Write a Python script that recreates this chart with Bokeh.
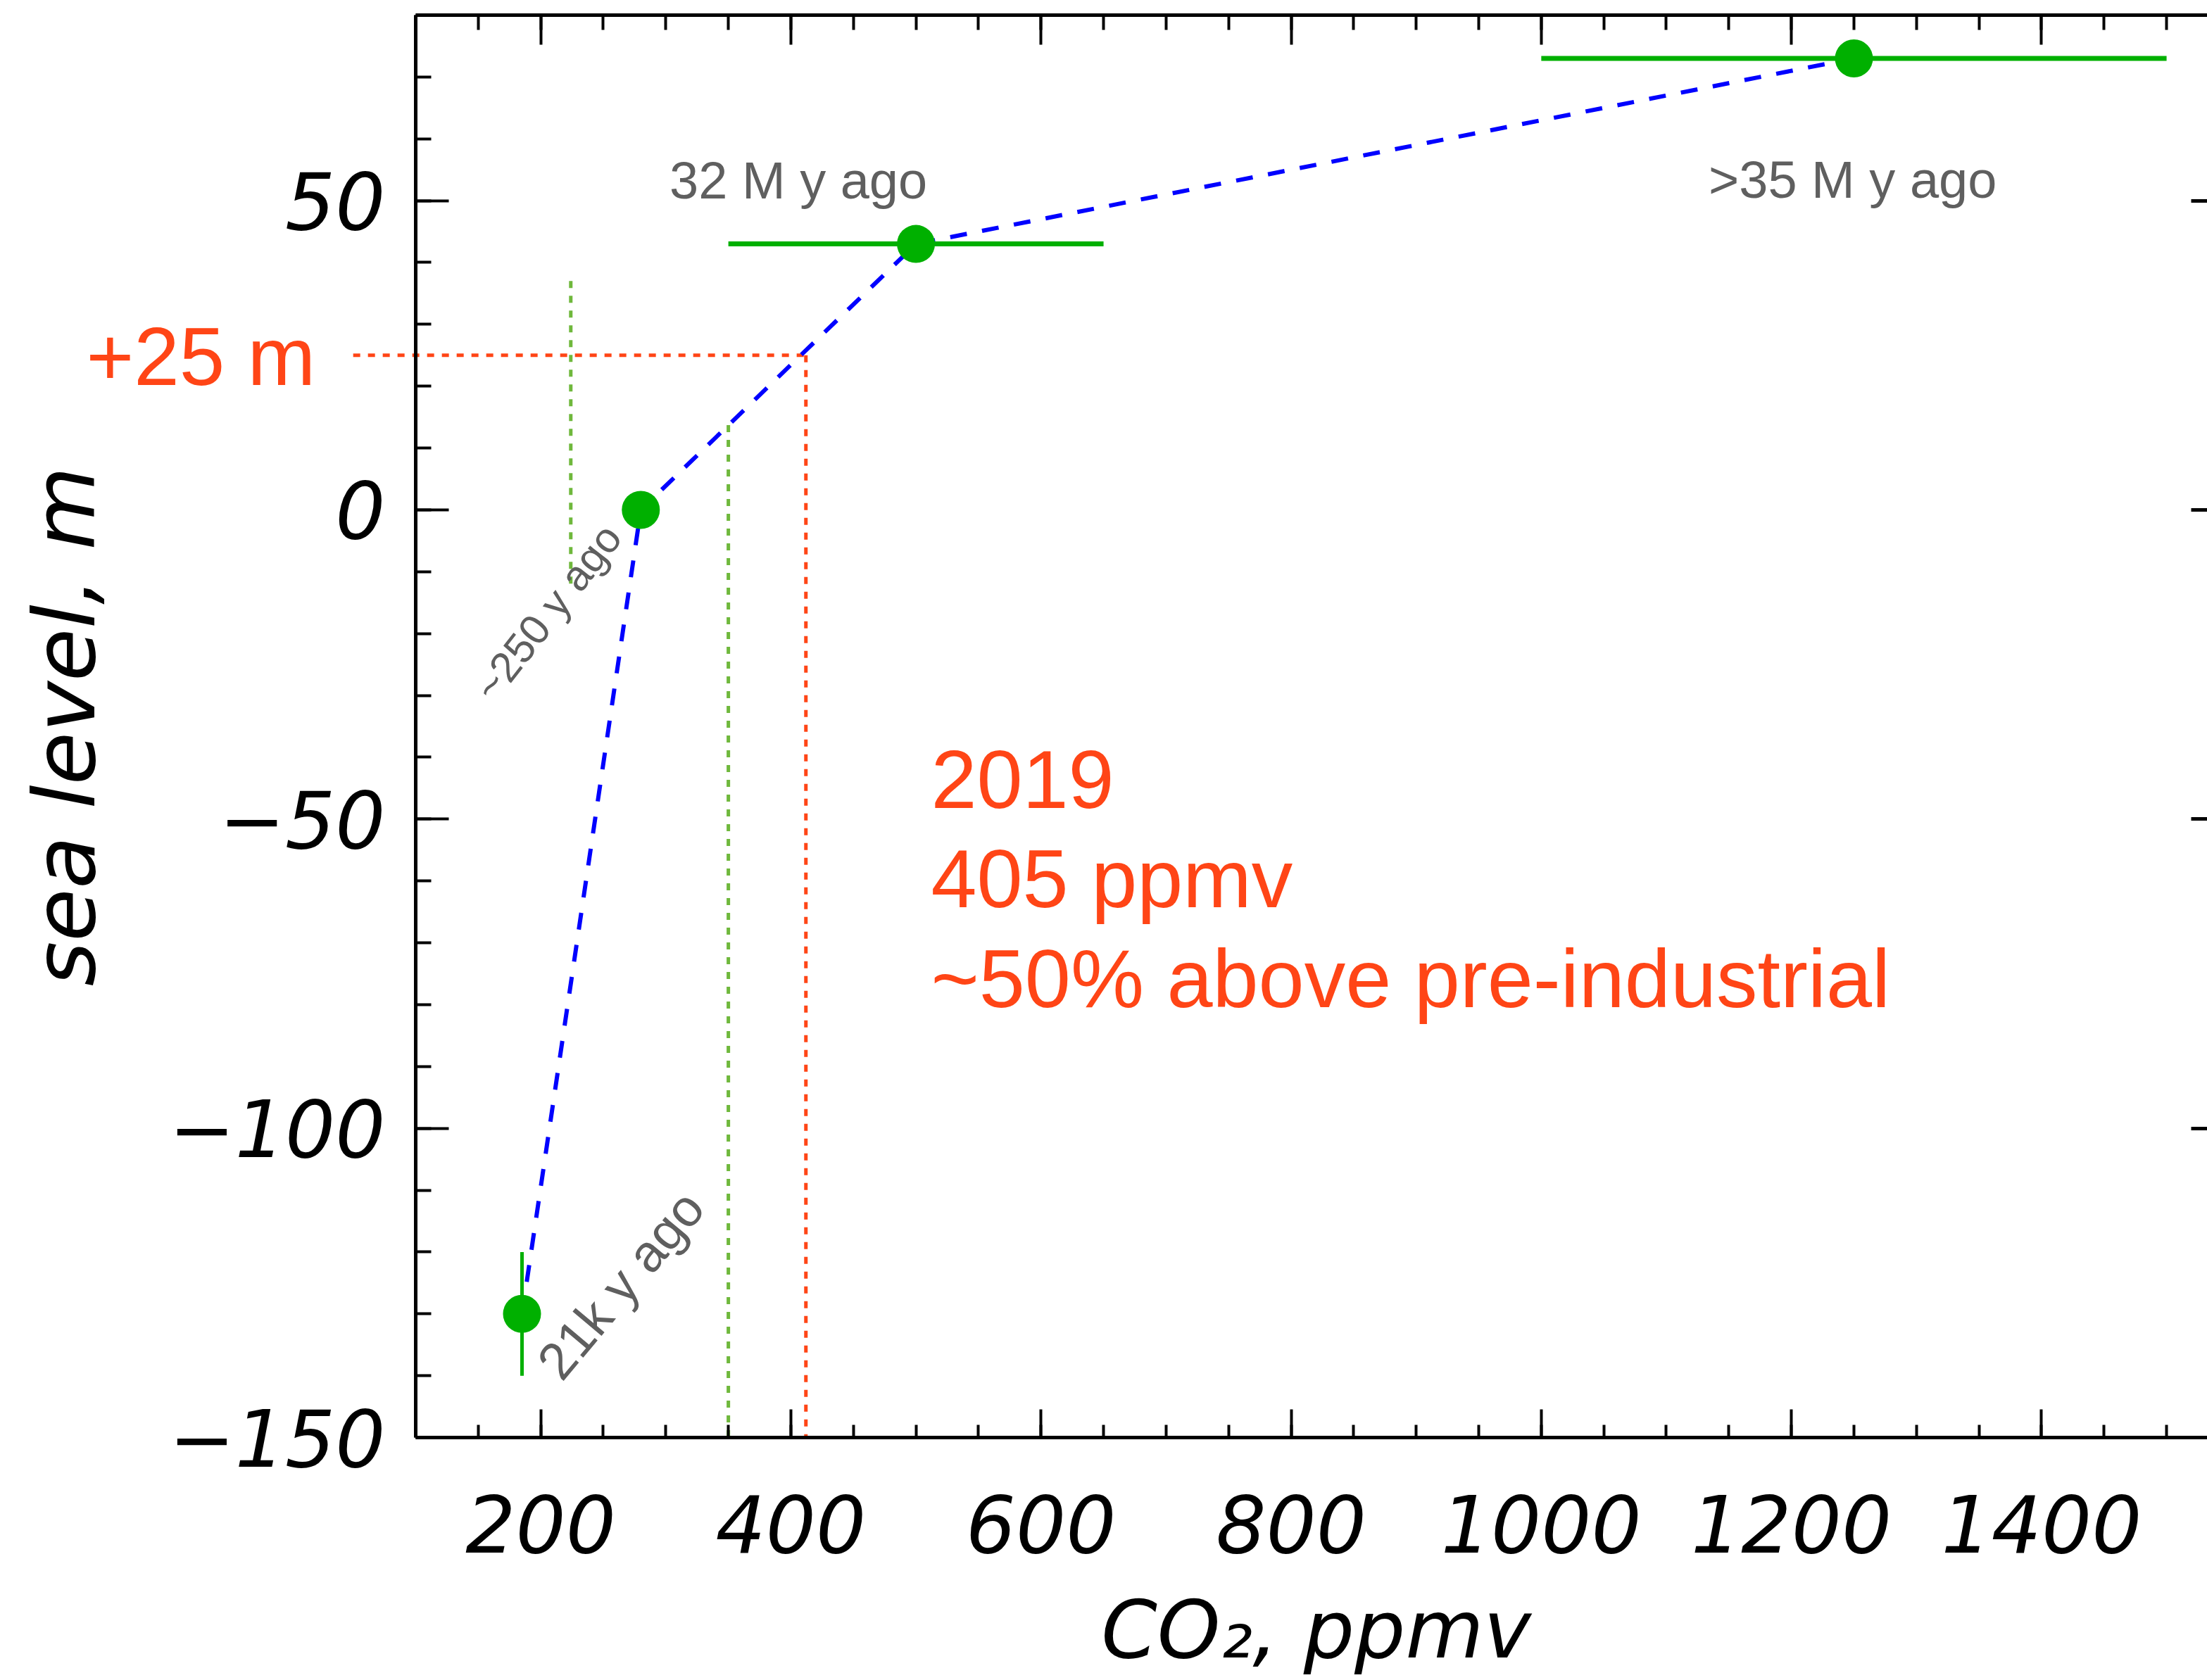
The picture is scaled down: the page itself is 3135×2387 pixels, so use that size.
import math
from bokeh.plotting import figure
from bokeh.models import Range1d, LinearAxis, SingleIntervalTicker
from bokeh.core.properties import value
from bokeh.embed import file_html
from bokeh.resources import INLINE

# ---------------- data ----------------
co2 = [185, 280, 500, 1250]          # ppmv
sea = [-130, 0, 43, 73]              # sea level, m

# horizontal error bars (CO2 uncertainty)
xerr_y = [43, 73]
xerr_lo = [350, 1000]
xerr_hi = [650, 1500]

# vertical error bar (sea level uncertainty)
yerr_x = [185]
yerr_lo = [-140]
yerr_hi = [-120]

# reference lines
green_x = [224, 350]
green_top = [37, 13.7]
green_bottom = [-12, -151]
now_co2 = 412
now_level = 25
now_level_start = 50

# axes
x_axis_min, x_axis_max = 100, 1532.6
y_axis_min, y_axis_max = -150, 80
right_axis_at = 1548
x_ticks_major = [200, 400, 600, 800, 1000, 1200, 1400]
y_ticks_major = [-150, -100, -50, 0, 50]

period_labels = ["32 M y ago", ">35 M y ago"]
period_x = [406, 1249]
period_y = [53.3, 53.4]

rot_labels = ["~250 y ago", "21k y ago"]
rot_x = [205.6, 264]
rot_y = [-16.6, -125.3]
rot_size = ["60px", "74px"]
rot_angle_deg = [52, 50]

note_lines = ["2019", "405 ppmv", "~50% above pre-industrial"]
note_x = [512, 512, 512]
note_y = [-43.6, -59.6, -75.8]

level_label = "+25 m"
level_label_x = -163.4
level_label_y = 24.8

x_title = "CO₂, ppmv"
x_title_pos = (820, -181.1)
y_title = "sea level, m"
y_title_pos = (-180.8, -35)

RED = "#ff4516"
GREEN = "#00b000"
DOTGREEN = "#6fb83c"
GRAY = "#5f5f5f"

W, H = 3135, 2387
# frame covers the whole canvas; axes are pinned at data locations
x_scale = 2545 / (x_axis_max - x_axis_min)
y_scale = 2021 / (y_axis_max - y_axis_min)
x_start = x_axis_min - 590 / x_scale
y_end = y_axis_max + 21 / y_scale
y_start = y_axis_min - 345 / y_scale

p = figure(width=W, height=H,
           x_range=Range1d(x_start, x_axis_max), y_range=Range1d(y_start, y_end),
           output_backend="svg", toolbar_location=None,
           x_axis_location=None, y_axis_location=None, min_border=0)
p.grid.visible = False
p.outline_line_color = None
p.background_fill_color = "white"
p.border_fill_color = "white"


def style(ax, mj, mn, labels=True):
    ax.axis_line_width = 5
    ax.axis_line_color = "black"
    ax.major_tick_in = mj
    ax.major_tick_out = 0
    ax.minor_tick_in = mn
    ax.minor_tick_out = 0
    ax.major_tick_line_width = 4
    ax.minor_tick_line_width = 4
    ax.major_tick_line_color = "black"
    ax.minor_tick_line_color = "black"
    ax.major_label_text_font = "DejaVu Sans"
    ax.major_label_text_font_style = "italic"
    ax.major_label_text_font_size = "112px"
    ax.major_label_text_color = "black"


bottom = LinearAxis(ticker=SingleIntervalTicker(interval=200, num_minor_ticks=4),
                    fixed_location=y_axis_min, bounds=(x_axis_min, x_axis_max))
style(bottom, 40, 18)
bottom.major_label_standoff = 81
p.add_layout(bottom, "below")

left = LinearAxis(ticker=SingleIntervalTicker(interval=50, num_minor_ticks=5),
                  fixed_location=x_axis_min, bounds=(y_axis_min, y_axis_max))
style(left, 47, 22)
left.major_label_standoff = 43
left.major_label_overrides = {t: ("−" + str(-t)) for t in y_ticks_major if t < 0}
p.add_layout(left, "left")

top = LinearAxis(ticker=SingleIntervalTicker(interval=200, num_minor_ticks=4),
                 fixed_location=y_axis_max, bounds=(x_axis_min, x_axis_max))
style(top, 42, 21)
top.major_label_overrides = {t: "" for t in x_ticks_major}
top.major_label_text_font_size = "0px"
p.add_layout(top, "above")

right = LinearAxis(ticker=SingleIntervalTicker(interval=50, num_minor_ticks=5),
                   fixed_location=right_axis_at, bounds=(y_axis_min, y_axis_max))
style(right, 50, 25)
right.major_tick_line_width = 5
right.major_label_overrides = {t: "" for t in y_ticks_major}
right.major_label_text_font_size = "0px"
p.add_layout(right, "right")

# axis titles
p.text(x=[x_title_pos[0]], y=[x_title_pos[1]], text=[x_title],
       text_font=value("DejaVu Sans"), text_font_style="italic",
       text_font_size=value("114px"), text_color="black",
       text_align="center", text_baseline="middle")
p.text(x=[y_title_pos[0]], y=[y_title_pos[1]], text=[y_title], angle=[math.pi / 2],
       text_font=value("DejaVu Sans"), text_font_style="italic",
       text_font_size=value("122px"), text_color="black",
       text_align="center", text_baseline="middle")

# reference dotted lines
p.segment(x0=green_x, y0=green_top, x1=green_x, y1=green_bottom,
          line_color=DOTGREEN, line_width=5, line_dash="10 11")
p.segment(x0=[now_co2], y0=[now_level], x1=[now_co2], y1=[y_axis_min],
          line_color=RED, line_width=5, line_dash="10 11")
p.segment(x0=[now_level_start], y0=[now_level], x1=[now_co2], y1=[now_level],
          line_color=RED, line_width=5, line_dash="10 11")

# dashed connecting line
p.line(co2, sea, line_color="#0000ff", line_width=6, line_dash="24 22")

# error bars
p.segment(x0=xerr_lo, y0=xerr_y, x1=xerr_hi, y1=xerr_y, line_color=GREEN, line_width=7)
p.segment(x0=yerr_x, y0=yerr_lo, x1=yerr_x, y1=yerr_hi, line_color=GREEN, line_width=5)

# points
p.scatter(co2, sea, size=54, fill_color=GREEN, line_color=None)

# texts
p.text(x=period_x, y=period_y, text=period_labels, text_font=value("Liberation Sans"),
       text_font_size=value("74px"), text_color=GRAY, text_align="center",
       text_baseline="middle")

for t, x, y, s, a in zip(rot_labels, rot_x, rot_y, rot_size, rot_angle_deg):
    p.text(x=[x], y=[y], text=[t], angle=[math.radians(a)],
           text_font=value("Liberation Sans"), text_font_size=value(s),
           text_color=GRAY, text_align="center", text_baseline="middle")

p.text(x=note_x, y=note_y, text=note_lines, text_font=value("Liberation Sans"),
       text_font_size=value("117px"), text_color=RED, text_align="left",
       text_baseline="middle")

p.text(x=[level_label_x], y=[level_label_y], text=[level_label],
       text_font=value("Liberation Sans"), text_font_size=value("116px"),
       text_color=RED, text_align="left", text_baseline="middle")

open("out.html", "w").write(file_html(p, INLINE))
